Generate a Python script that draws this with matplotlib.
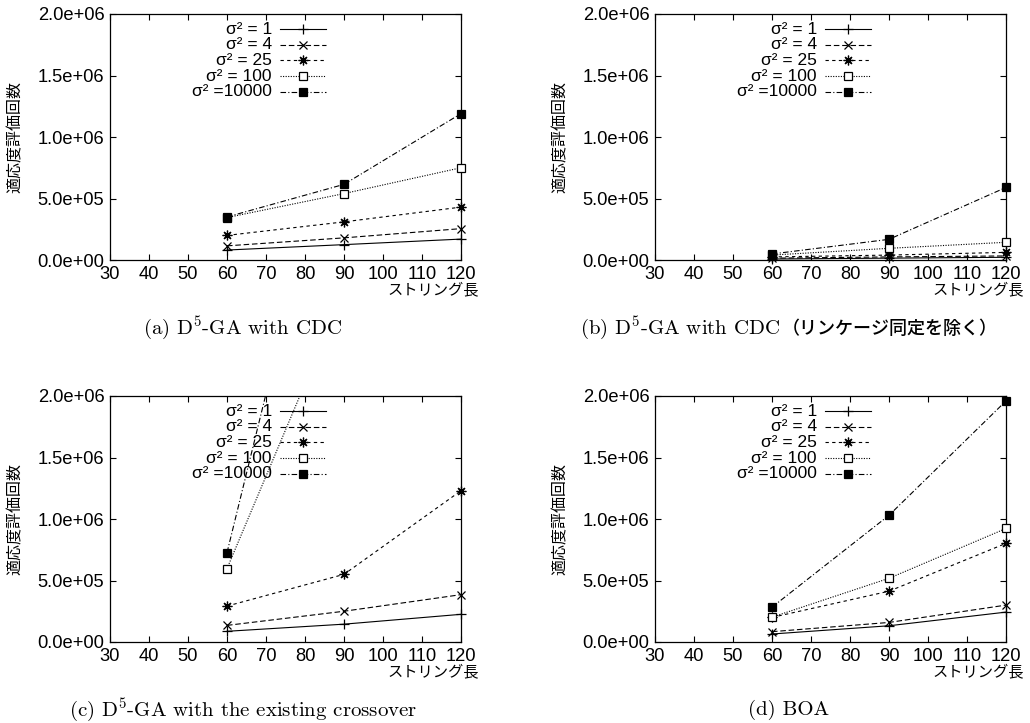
import numpy as np
import matplotlib
matplotlib.use('Agg')
import matplotlib.pyplot as plt
from matplotlib.ticker import FuncFormatter
from matplotlib.offsetbox import TextArea, HPacker, AnnotationBbox

plt.rcParams['font.family'] = ['Liberation Sans', 'Noto Sans CJK JP', 'DejaVu Sans']

string_len = [60, 90, 120]
sigma_labels = ['σ² = 1', 'σ² = 4', 'σ² = 25', 'σ² = 100', 'σ² =10000']

# (a) D5-GA with CDC
evals_a = [
    [8.1e4, 1.25e5, 1.7e5],
    [1.15e5, 1.8e5, 2.55e5],
    [2.0e5, 3.1e5, 4.3e5],
    [3.45e5, 5.4e5, 7.5e5],
    [3.5e5, 6.15e5, 1.19e6],
]
# (b) D5-GA with CDC, without linkage identification
evals_b = [
    [8e3, 1.5e4, 2.2e4],
    [1.5e4, 2.5e4, 3.3e4],
    [2.5e4, 4.0e4, 6.2e4],
    [4.0e4, 9.5e4, 1.44e5],
    [4.9e4, 1.68e5, 5.9e5],
]
# (c) D5-GA with the existing crossover
evals_c = [
    [8.7e4, 1.45e5, 2.25e5],
    [1.35e5, 2.5e5, 3.85e5],
    [2.92e5, 5.5e5, 1.23e6],
    [5.97e5, 2.85e6, 6.0e6],
    [7.26e5, 4.6e6, 1.0e7],
]
# (d) BOA
evals_d = [
    [6.5e4, 1.32e5, 2.43e5],
    [8.4e4, 1.59e5, 3.0e5],
    [2.0e5, 4.13e5, 8.02e5],
    [2.02e5, 5.18e5, 9.23e5],
    [2.83e5, 1.03e6, 1.96e6],
]

captions = [
    r'(a) $\mathrm{D}^5$-GA with CDC',
    r'(b) $\mathrm{D}^5$-GA with CDC',
    r'(c) $\mathrm{D}^5$-GA with the existing crossover',
    r'(d) BOA',
]

styles = [
    dict(ls='-', marker='+', ms=7, mfc='black'),
    dict(ls=(0, (5, 2.5)), marker='x', ms=5.5, mfc='black'),
    dict(ls=(0, (3, 3)), marker=(8, 2, 0), ms=7, mfc='black'),
    dict(ls=(0, (1, 1.3)), marker='s', ms=5.5, mfc='white'),
    dict(ls=(0, (5, 2, 1, 2)), marker='s', ms=5.8, mfc='black'),
]

W, H = 1030, 723
fig = plt.figure(figsize=(W / 100, H / 100), dpi=100)

boxes = [(110, 14), (655, 14), (110, 396), (655, 396)]
aw, ah = 351, 246
YMAX = 2.0e6


def draw_panel(ax, data):
    for vals, st in zip(data, styles):
        y = np.array(vals)
        ax.plot(string_len, y, color='black', lw=0.8, ls=st['ls'], zorder=3)
        ym = np.where(y <= YMAX, y, np.nan)
        ax.plot(string_len, ym, ls='none', marker=st['marker'], ms=st['ms'],
                mfc=st['mfc'], mec='black', mew=0.9, clip_on=False, zorder=4)

    ax.set_xlim(30, 120)
    ax.set_ylim(0, YMAX)
    ax.set_xticks(np.arange(30, 121, 10))
    ax.set_yticks(np.arange(0, YMAX + 1, 5e5))
    ax.yaxis.set_major_formatter(FuncFormatter(lambda v, p: '%.1e' % v))
    ax.tick_params(direction='in', length=4.3, width=0.8, top=True, right=True,
                   labelsize=13.2, pad=4)
    for sp in ax.spines.values():
        sp.set_linewidth(0.9)

    # gnuplot-like key
    for i, (lab, st) in enumerate(zip(sigma_labels, styles)):
        yf = 0.939 - i * 0.0638
        ax.text(0.4615, yf, lab, transform=ax.transAxes, ha='right', va='center',
                fontsize=12.5, zorder=2)
        ax.plot([0.484, 0.615], [yf, yf], transform=ax.transAxes, color='black',
                lw=0.8, ls=st['ls'], clip_on=False)
        ax.plot([0.5495], [yf], transform=ax.transAxes, ls='none', marker=st['marker'],
                ms=st['ms'], mfc=st['mfc'], mec='black', mew=0.9, clip_on=False)

    ax.set_ylabel('適応度評価回数', fontsize=11.5, family='Noto Sans CJK JP')
    ax.yaxis.set_label_coords(-0.245, 0.5)
    ax.text(1.05, -0.122, 'ストリング長', transform=ax.transAxes, ha='right',
            va='center', fontsize=11, family='Noto Sans CJK JP')


for (x0, y0), data in zip(boxes, [evals_a, evals_b, evals_c, evals_d]):
    ax = fig.add_axes([x0 / W, 1 - (y0 + ah) / H, aw / W, ah / H])
    draw_panel(ax, data)

cap_font = dict(family='cmr10', fontsize=15, math_fontfamily='cm')
cap_pos = [(243, 328), (789, 328), (243, 710), (789, 710)]
for i, (cap, (cx, cy)) in enumerate(zip(captions, cap_pos)):
    if i == 1:
        part1 = TextArea(cap + ' ', textprops=dict(color='black', **cap_font))
        part2 = TextArea('（リンケージ同定を除く）',
                         textprops=dict(color='black', family='Noto Sans CJK JP',
                                        fontsize=13, weight='medium'))
        pack = HPacker(children=[part1, part2], sep=0, pad=0, align='baseline')
        ab = AnnotationBbox(pack, (cx / W, 1 - cy / H), xycoords='figure fraction',
                            frameon=False, box_alignment=(0.5, 0.5), pad=0)
        fig.add_artist(ab)
    else:
        fig.text(cx / W, 1 - cy / H, cap, ha='center', va='center', **cap_font)

fig.savefig('out.png', dpi=100)
